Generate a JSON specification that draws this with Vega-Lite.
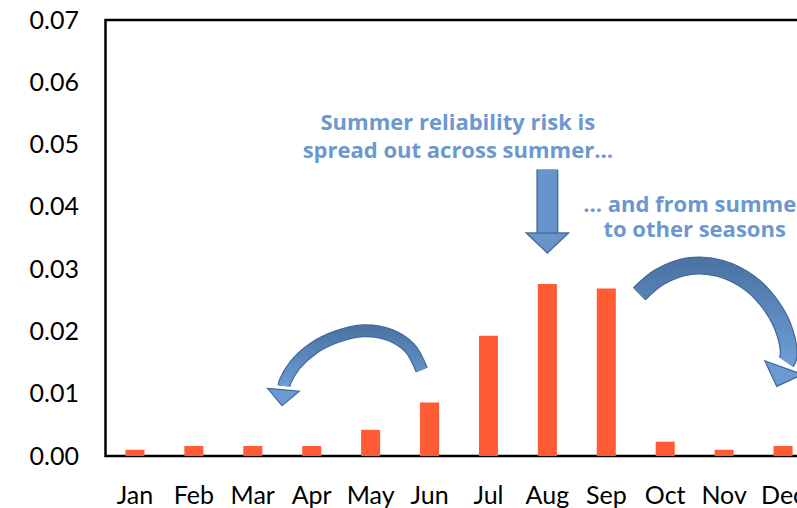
{
  "$schema": "https://vega.github.io/schema/vega-lite/v6.json",
  "width": 707,
  "height": 436,
  "autosize": "none",
  "padding": {"left": 105.5, "top": 20, "right": 0, "bottom": 52},
  "background": "white",
  "config": {
    "view": {"stroke": "#000000", "strokeWidth": 2.5},
    "font": "Lato"
  },
  "datasets": {
    "months": [
      {"month": "Jan", "risk": 0.001},
      {"month": "Feb", "risk": 0.0016},
      {"month": "Mar", "risk": 0.0016},
      {"month": "Apr", "risk": 0.0016},
      {"month": "May", "risk": 0.0042},
      {"month": "Jun", "risk": 0.0086},
      {"month": "Jul", "risk": 0.0193},
      {"month": "Aug", "risk": 0.0276},
      {"month": "Sep", "risk": 0.0269},
      {"month": "Oct", "risk": 0.0023},
      {"month": "Nov", "risk": 0.001},
      {"month": "Dec", "risk": 0.0016}
    ],
    "leftArc": [
      {"i": 0, "x": 5.368, "y": 0.01381},
      {"i": 1, "x": 5.170, "y": 0.01729},
      {"i": 2, "x": 4.830, "y": 0.01943},
      {"i": 3, "x": 4.377, "y": 0.02012},
      {"i": 4, "x": 3.925, "y": 0.01915},
      {"i": 5, "x": 3.528, "y": 0.01729},
      {"i": 6, "x": 3.217, "y": 0.01461},
      {"i": 7, "x": 3.048, "y": 0.01193},
      {"i": 8, "x": 3.031, "y": 0.01124}
    ],
    "rightArc": [
      {"i": 0, "x": 9.058, "y": 0.02601},
      {"i": 1, "x": 9.414, "y": 0.02879},
      {"i": 2, "x": 9.924, "y": 0.03050},
      {"i": 3, "x": 10.433, "y": 0.03013},
      {"i": 4, "x": 10.942, "y": 0.02772},
      {"i": 5, "x": 11.311, "y": 0.02397},
      {"i": 6, "x": 11.536, "y": 0.01970},
      {"i": 7, "x": 11.592, "y": 0.01594},
      {"i": 8, "x": 11.553, "y": 0.01509}
    ],
    "downShaft": [
      {"x": 7.5, "y": 0.0460, "y2": 0.0356}
    ]
  },
  "resolve": {"scale": {"x": "independent"}},
  "layer": [
    {
      "data": {"name": "months"},
      "mark": {"type": "bar", "color": "#FF5B35"},
      "encoding": {
        "x": {
          "field": "month",
          "type": "nominal",
          "sort": null,
          "scale": {"paddingInner": 0.677, "paddingOuter": 0.3385},
          "axis": {
            "title": null,
            "domain": false,
            "ticks": false,
            "labelAngle": 0,
            "labelFont": "Lato",
            "labelFontSize": 25,
            "labelColor": "#000000",
            "labelPadding": 27
          }
        },
        "y": {
          "field": "risk",
          "type": "quantitative",
          "scale": {"domain": [0, 0.07], "nice": false},
          "axis": {
            "title": null,
            "values": [0, 0.01, 0.02, 0.03, 0.04, 0.05, 0.06, 0.07],
            "format": ".2f",
            "grid": false,
            "domain": false,
            "ticks": false,
            "labelFont": "Lato",
            "labelFontSize": 25,
            "labelColor": "#000000",
            "labelPadding": 27
          }
        }
      }
    },
    {
      "layer": [
        {
          "data": {"name": "leftArc"},
          "mark": {"type": "line", "interpolate": "catmull-rom", "stroke": "#44699A", "strokeWidth": 13, "strokeCap": "butt"},
          "encoding": {
            "x": {"field": "x", "type": "quantitative", "scale": {"domain": [0, 12], "nice": false, "zero": false}, "axis": null},
            "y": {"field": "y", "type": "quantitative"},
            "order": {"field": "i"}
          }
        },
        {
          "data": {"name": "leftArc"},
          "mark": {
            "type": "line",
            "interpolate": "catmull-rom",
            "strokeWidth": 10.5,
            "strokeCap": "butt",
            "stroke": {"gradient": "linear", "x1": 0, "y1": 0, "x2": 0, "y2": 1, "stops": [{"offset": 0, "color": "#4C75A5"}, {"offset": 1, "color": "#6C9DD5"}]}
          },
          "encoding": {
            "x": {"field": "x", "type": "quantitative", "axis": null},
            "y": {"field": "y", "type": "quantitative"},
            "order": {"field": "i"}
          }
        },
        {
          "data": {"values": [{"x": 3.008, "y": 0.00936}]},
          "mark": {"type": "point", "shape": "M -1 -0.5 L 1 -0.5 L 0 0.5 Z", "size": 1024, "angle": 5, "filled": true, "fill": "#6A9AD2", "stroke": "#44699A", "strokeWidth": 1.2, "opacity": 1},
          "encoding": {
            "x": {"field": "x", "type": "quantitative", "axis": null},
            "y": {"field": "y", "type": "quantitative"}
          }
        },
        {
          "data": {"name": "rightArc"},
          "mark": {"type": "line", "interpolate": "catmull-rom", "stroke": "#44699A", "strokeWidth": 18, "strokeCap": "butt"},
          "encoding": {
            "x": {"field": "x", "type": "quantitative", "axis": null},
            "y": {"field": "y", "type": "quantitative"},
            "order": {"field": "i"}
          }
        },
        {
          "data": {"name": "rightArc"},
          "mark": {
            "type": "line",
            "interpolate": "catmull-rom",
            "strokeWidth": 15.5,
            "strokeCap": "butt",
            "stroke": {"gradient": "linear", "x1": 0, "y1": 0, "x2": 0, "y2": 1, "stops": [{"offset": 0, "color": "#4C75A5"}, {"offset": 1, "color": "#6C9DD5"}]}
          },
          "encoding": {
            "x": {"field": "x", "type": "quantitative", "axis": null},
            "y": {"field": "y", "type": "quantitative"},
            "order": {"field": "i"}
          }
        },
        {
          "data": {"values": [{"x": 11.451, "y": 0.01268}]},
          "mark": {"type": "point", "shape": "M -1 -0.5 L 1 -0.5 L 0 0.5 Z", "size": 1600, "angle": 20, "filled": true, "fill": "#6A9AD2", "stroke": "#44699A", "strokeWidth": 1.2, "opacity": 1},
          "encoding": {
            "x": {"field": "x", "type": "quantitative", "axis": null},
            "y": {"field": "y", "type": "quantitative"}
          }
        },
        {
          "data": {"name": "downShaft"},
          "mark": {"type": "rule", "stroke": "#4A6F9E", "strokeWidth": 22, "strokeCap": "butt"},
          "encoding": {
            "x": {"field": "x", "type": "quantitative", "axis": null},
            "y": {"field": "y", "type": "quantitative"},
            "y2": {"field": "y2"}
          }
        },
        {
          "data": {"name": "downShaft"},
          "mark": {"type": "rule", "stroke": "#6795CB", "strokeWidth": 19, "strokeCap": "butt"},
          "encoding": {
            "x": {"field": "x", "type": "quantitative", "axis": null},
            "y": {"field": "y", "type": "quantitative"},
            "y2": {"field": "y2"}
          }
        },
        {
          "data": {"values": [{"x": 7.5, "y": 0.0342}]},
          "mark": {"type": "point", "shape": "M -1 -0.476 L 1 -0.476 L 0 0.476 Z", "size": 1764, "angle": 0, "filled": true, "fill": "#6795CB", "stroke": "#4A6F9E", "strokeWidth": 1.5, "opacity": 1},
          "encoding": {
            "x": {"field": "x", "type": "quantitative", "axis": null},
            "y": {"field": "y", "type": "quantitative"}
          }
        },
        {
          "data": {"values": [{"text": "Summer reliability risk is\nspread out across summer…", "x": 5.98, "y": 0.05234}]},
          "mark": {"type": "text", "font": "Open Sans", "fontWeight": "bold", "fontSize": 22, "lineBreak": "\n", "lineHeight": 28, "color": "#6A98CF", "align": "center", "baseline": "alphabetic"},
          "encoding": {
            "x": {"field": "x", "type": "quantitative", "axis": null},
            "y": {"field": "y", "type": "quantitative"},
            "text": {"field": "text"}
          }
        },
        {
          "data": {"values": [{"text": "… and from summer\nto other seasons", "x": 10.0, "y": 0.03917}]},
          "mark": {"type": "text", "font": "Open Sans", "fontWeight": "bold", "fontSize": 22, "lineBreak": "\n", "lineHeight": 25, "color": "#6A98CF", "align": "center", "baseline": "alphabetic"},
          "encoding": {
            "x": {"field": "x", "type": "quantitative", "axis": null},
            "y": {"field": "y", "type": "quantitative"},
            "text": {"field": "text"}
          }
        }
      ]
    }
  ]
}
